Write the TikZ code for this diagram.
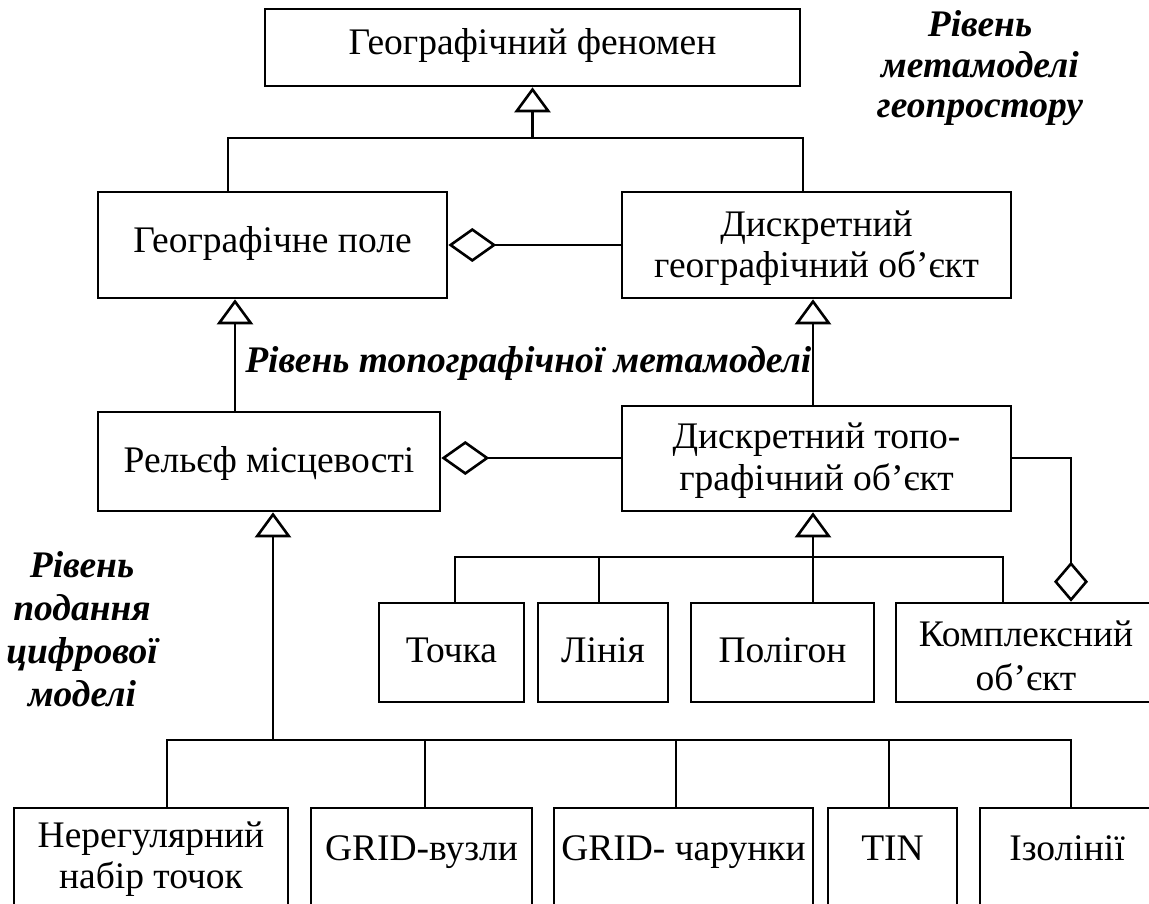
\documentclass[tikz,border=0pt]{standalone}
\usepackage{fontspec}
\setmainfont{Liberation Serif}
\usetikzlibrary{arrows.meta}
\begin{document}
\begin{tikzpicture}[x=1pt,y=-1pt,
  line width=2.6pt,
  box/.style={draw, rectangle, inner sep=0pt, line width=2.6pt},
  txt/.style={font=\fontsize{37.5}{43}\selectfont, inner sep=0pt, anchor=base},
  lvl/.style={font=\fontsize{37.5}{43}\selectfont\bfseries\itshape, inner sep=0pt, anchor=base},
  conn/.style={draw, line width=2.6pt, line join=miter},
  gen/.style={conn, -{Triangle[open, length=25pt, width=36pt, line join=miter]}},
  agg/.style={conn, -{Diamond[open, length=48pt, width=34pt, line join=miter]}},
  aggv/.style={conn, -{Diamond[open, length=40pt, width=34pt, line join=miter]}}]
\useasboundingbox (0,0) rectangle (1149,904);
\clip (0,0) rectangle (1149,904);

% boxes
\node[box, minimum width=535pt, minimum height=77pt] (phen) at (532.5,47.5) {};
\node[box, minimum width=349pt, minimum height=106pt] (field) at (272.5,245) {};
\node[box, minimum width=389pt, minimum height=106pt] (dgeo) at (816.5,245) {};
\node[box, minimum width=342pt, minimum height=99pt] (relief) at (269,461.5) {};
\node[box, minimum width=389pt, minimum height=105pt] (dtopo) at (816.5,458.5) {};
\node[box, minimum width=145pt, minimum height=99pt] (tochka) at (451.5,652.5) {};
\node[box, minimum width=130pt, minimum height=99pt] (liniya) at (603,652.5) {};
\node[box, minimum width=183pt, minimum height=99pt] (poligon) at (782.5,652.5) {};
\node[box, minimum width=259pt, minimum height=99pt] (kompl) at (1025.5,652.5) {};
\node[box, minimum width=274pt, minimum height=110pt] (nereg) at (151,863) {};
\node[box, minimum width=221pt, minimum height=110pt] (gridv) at (421.5,863) {};
\node[box, minimum width=259pt, minimum height=110pt] (gridc) at (683.5,863) {};
\node[box, minimum width=129pt, minimum height=110pt] (tin) at (892.5,863) {};
\node[box, minimum width=175pt, minimum height=110pt] (izol) at (1067.5,863) {};

% box texts
\node[txt] at (532.5,55) {Географічний феномен};
\node[txt] at (272.5,253) {Географічне поле};
\node[txt] at (816.5,237) {Дискретний};
\node[txt] at (816.5,278) {географічний об’єкт};
\node[txt] at (269,472) {Рельєф місцевості};
\node[txt] at (816.5,448) {Дискретний топо-};
\node[txt] at (816.5,490) {графічний об’єкт};
\node[txt] at (451.5,662) {Точка};
\node[txt] at (603,662) {Лінія};
\node[txt] at (782.5,662) {Полігон};
\node[txt] at (1026,646) {Комплексний};
\node[txt] at (1026,690) {об’єкт};
\node[txt] at (151,847) {Нерегулярний};
\node[txt] at (151,888) {набір точок};
\node[txt] at (421.5,860) {GRID-вузли};
\node[txt] at (683.5,860) {GRID- чарунки};
\node[txt] at (892.5,860) {TIN};
\node[txt] at (1067,860) {Ізолінії};

% level labels
\node[lvl] at (980,37) {Рівень};
\node[lvl] at (980,78) {метамоделі};
\node[lvl] at (980,118) {геопростору};
\node[lvl, anchor=base west] at (244,372) {Рівень топографічної метамоделі};
\node[lvl] at (82,577) {Рівень};
\node[lvl] at (82,620) {подання};
\node[lvl] at (82,663) {цифрової};
\node[lvl] at (82,706) {моделі};

% junction coordinates
\coordinate (j1) at (532.5,138);
\coordinate (j1l) at (228,138);
\coordinate (j1r) at (803,138);
\coordinate (x2) at (235,0);
\coordinate (x3) at (813,0);
\coordinate (y3) at (0,458);
\coordinate (xk) at (1071,0);
\coordinate (j4) at (813,557);
\coordinate (j4l) at (455,557);
\coordinate (j4m) at (599,557);
\coordinate (j4r) at (1003,557);
\coordinate (j5) at (273,740);
\coordinate (j5l) at (167,740);
\coordinate (x5b) at (425,0);
\coordinate (x5c) at (676,0);
\coordinate (x5d) at (889,0);
\coordinate (j5r) at (1071,740);

% generalization to phenomenon
\draw[gen] (j1) -- (phen.south -| j1);
\draw[conn] (field.north -| j1l) -- (j1l) -- (j1r) -- (dgeo.north -| j1r);

% aggregation field <- discrete geographic object
\draw[agg] (dgeo.west) -- (field.east);

% relief -> field
\draw[gen] (relief.north -| x2) -- (field.south -| x2);
% discrete topo -> discrete geo
\draw[gen] (dtopo.north -| x3) -- (dgeo.south -| x3);
% aggregation relief <- discrete topo
\draw[agg] (dtopo.west |- y3) -- (relief.east |- y3);
% aggregation complex <- discrete topo
\draw[aggv] (dtopo.east |- y3) -| (kompl.north -| xk);

% row of topographic object kinds
\draw[gen] (poligon.north -| j4) -- (dtopo.south -| j4);
\draw[conn] (tochka.north -| j4l) -- (j4l) -- (j4r) -- (kompl.north -| j4r);
\draw[conn] (liniya.north -| j4m) -- (j4m);

% digital model representations
\draw[gen] (j5) -- (relief.south -| j5);
\draw[conn] (nereg.north -| j5l) -- (j5l) -- (j5r) -- (izol.north -| j5r);
\draw[conn] (gridv.north -| x5b) -- (j5 -| x5b);
\draw[conn] (gridc.north -| x5c) -- (j5 -| x5c);
\draw[conn] (tin.north -| x5d) -- (j5 -| x5d);
\end{tikzpicture}
\end{document}
